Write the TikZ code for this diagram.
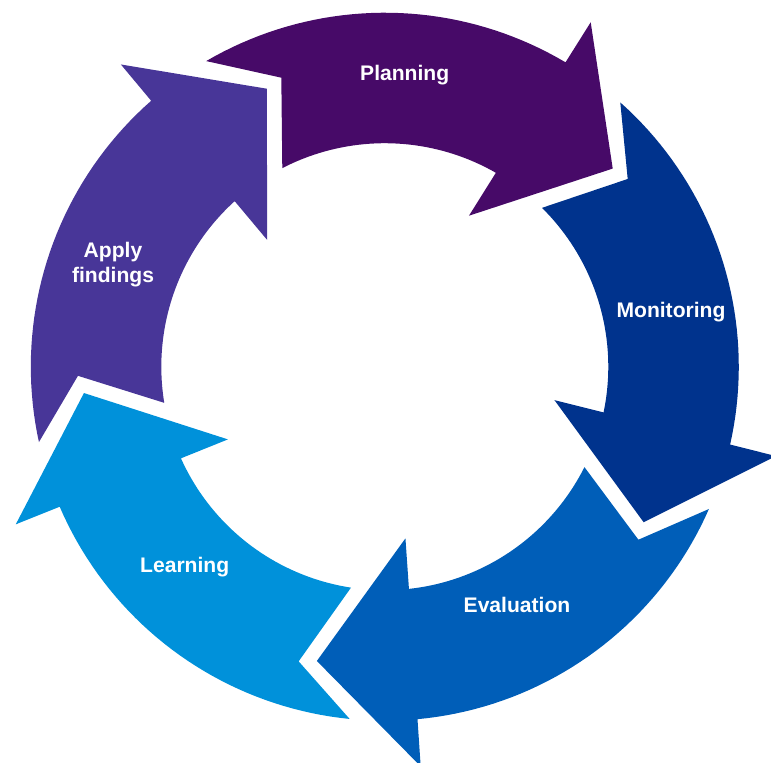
\documentclass[tikz,border=0pt]{standalone}
\usepackage{fontspec}
\setmainfont{Liberation Sans}
\definecolor{cPlan}{HTML}{470A68}
\definecolor{cMon}{HTML}{00338D}
\definecolor{cEval}{HTML}{005EB8}
\definecolor{cLearn}{HTML}{0091DA}
\definecolor{cApply}{HTML}{483698}
\newcommand\cyclearrow[2]{%
  \fill[#1, shift={(384.8,-366.7)}, rotate=#2]
    (120.3:354) -- (109.7:307) -- (117.3:223.5)
    -- plot[domain=117.3:60.2, samples=40] (\x:223.5)
    -- (60.86:172.9) -- (41.0:302) -- (59.13:401.3) -- (59.3:354)
    -- plot[domain=59.3:120.3, samples=40] (\x:354) -- cycle;}
\begin{document}
\begin{tikzpicture}[x=0.02cm,y=0.02cm,
  lbl/.style={text=white, font=\bfseries\fontsize{12}{14.2}\selectfont, inner sep=0pt}]
\useasboundingbox (0,0) rectangle (771,-762);
\clip (0,0) rectangle (771,-762);
\cyclearrow{cPlan}{0}
\cyclearrow{cMon}{-72}
\cyclearrow{cEval}{-144}
\cyclearrow{cLearn}{-216}
\cyclearrow{cApply}{-288}
\node[lbl, anchor=base] (planning) at (404.7,-80) {Planning};
\node[lbl, anchor=base] (monitoring) at (671,-317) {Monitoring};
\node[lbl, anchor=base] (evaluation) at (517,-612.7) {Evaluation};
\node[lbl, anchor=base] (learning) at (184.7,-572.7) {Learning};
\node[lbl, align=center] (apply) at (113,-265) {Apply\\findings};
\end{tikzpicture}
\end{document}
